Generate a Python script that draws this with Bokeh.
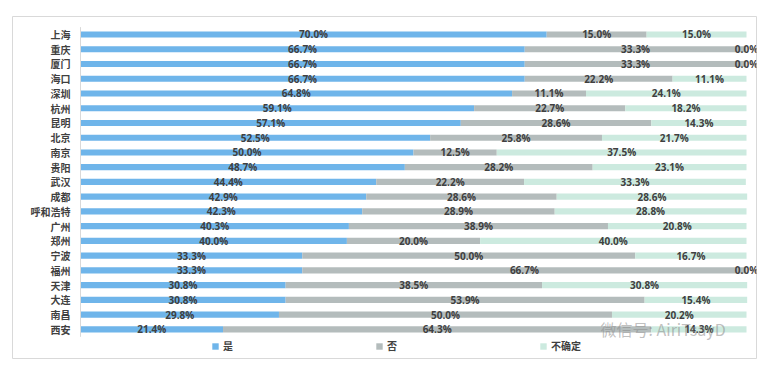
from bokeh.plotting import figure
from bokeh.models import ColumnDataSource, Range1d, Legend, LegendItem, Label
from bokeh.core.properties import value
from bokeh.embed import file_html
from bokeh.resources import INLINE

cities = ["上海", "重庆", "厦门", "海口", "深圳", "杭州", "昆明", "北京", "南京", "贵阳", "武汉",
          "成都", "呼和浩特", "广州", "郑州", "宁波", "福州", "天津", "大连", "南昌", "西安"]
yes = [70.0, 66.7, 66.7, 66.7, 64.8, 59.1, 57.1, 52.5, 50.0, 48.7, 44.4,
       42.9, 42.3, 40.3, 40.0, 33.3, 33.3, 30.8, 30.8, 29.8, 21.4]
no = [15.0, 33.3, 33.3, 22.2, 11.1, 22.7, 28.6, 25.8, 12.5, 28.2, 22.2,
      28.6, 28.9, 38.9, 20.0, 50.0, 66.7, 38.5, 53.9, 50.0, 64.3]
unsure = [15.0, 0.0, 0.0, 11.1, 24.1, 18.2, 14.3, 21.7, 37.5, 23.1, 33.3,
          28.6, 28.8, 20.8, 40.0, 16.7, 0.0, 30.8, 15.4, 20.2, 14.3]
series_names = ["是", "否", "不确定"]
colors = ["#6fb5ea", "#b4bcbc", "#cceadf"]

idx = list(range(len(cities)))
y_end = yes
n_end = [a + b for a, b in zip(yes, no)]
u_end = [a + b + c for a, b, c in zip(yes, no, unsure)]

src = ColumnDataSource(dict(
    y=idx, city=cities,
    y0=[0] * len(idx), y1=y_end, n1=n_end, u1=u_end,
    yc=[v / 2 for v in yes],
    nc=[a + b / 2 for a, b in zip(yes, no)],
    uc=[a + b + c / 2 for a, b, c in zip(yes, no, unsure)],
    yl=[f"{v:.1f}%" for v in yes],
    nl=[f"{v:.1f}%" for v in no],
    ul=[f"{v:.1f}%" for v in unsure],
    lx=[-1.5] * len(idx),
))

p = figure(width=760, height=360, output_backend="svg", toolbar_location=None,
           x_range=Range1d(-10.21, 101.5), y_range=Range1d(21.97, -1.22),
           min_border_left=12, min_border_right=4, min_border_top=16, min_border_bottom=2)
p.axis.visible = False
p.grid.visible = False
p.outline_line_color = "#d9d9d9"
p.outline_line_width = 1
p.background_fill_color = "white"
p.border_fill_color = "white"

bh = 0.42
r1 = p.hbar(y="y", left="y0", right="y1", height=bh, source=src, fill_color=colors[0], line_color=None)
r2 = p.hbar(y="y", left="y1", right="n1", height=bh, source=src, fill_color=colors[1], line_color=None)
r3 = p.hbar(y="y", left="n1", right="u1", height=bh, source=src, fill_color=colors[2], line_color=None)

# axis line
p.segment(x0=[0], x1=[0], y0=[-0.5], y1=[len(idx) - 0.5], line_color="#d9d9d9", line_width=1)

font = value("Open Sans")
for col_x, col_t in (("yc", "yl"), ("nc", "nl"), ("uc", "ul")):
    p.text(x=col_x, y="y", text=col_t, source=src, text_align="center", text_baseline="middle",
           text_font=font, text_font_style="bold", text_font_size="10px", text_color="#404040")

p.text(x="lx", y="y", text="city", source=src, text_align="right", text_baseline="middle",
       text_font=value("Noto Sans CJK SC"), text_font_style="bold", text_font_size="10px",
       text_color="#404040")

legend = Legend(items=[LegendItem(label=series_names[0], renderers=[r1]),
                       LegendItem(label=series_names[1], renderers=[r2]),
                       LegendItem(label=series_names[2], renderers=[r3])],
                orientation="horizontal", location=(199, 5), padding=0, margin=0,
                spacing=142, glyph_width=8, glyph_height=8, label_standoff=4, label_width=10,
                label_height=12,
                border_line_color=None, background_fill_alpha=0,
                label_text_font="Noto Sans CJK SC", label_text_font_style="bold",
                label_text_font_size="10px", label_text_color="#404040")
p.add_layout(legend, "center")

p.add_layout(Label(x=588, y=18, x_units="screen", y_units="screen", text="微信号: AiriTsayD",
                   text_font="Noto Sans CJK SC", text_font_size="16px", text_color="#8c8c8c",
                   text_alpha=0.55))

open("out.html", "w").write(file_html(p, INLINE))
